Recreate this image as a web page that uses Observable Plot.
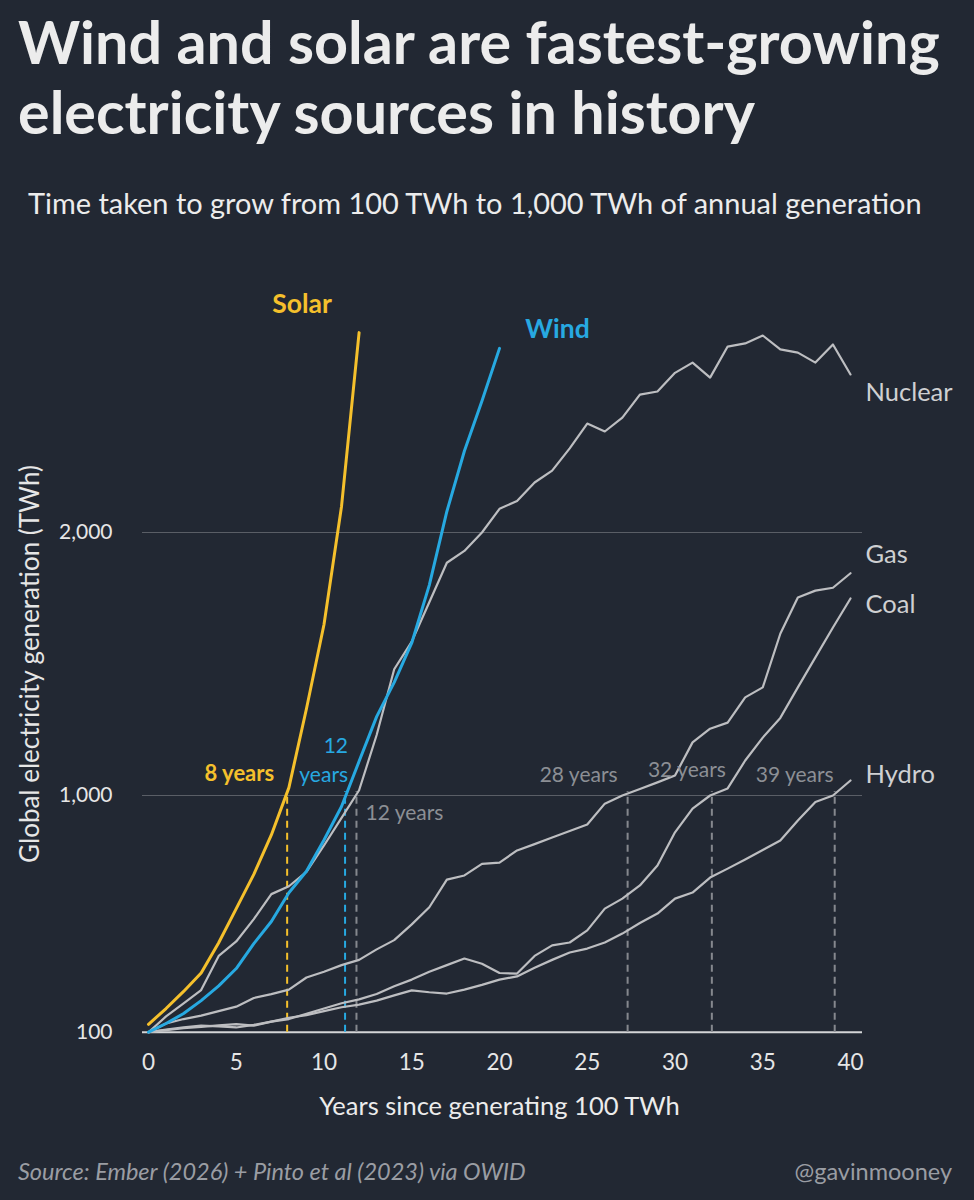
<!DOCTYPE html>
<html>
<head>
<meta charset="utf-8">
<script src="https://cdn.jsdelivr.net/npm/d3@7"></script>
<script src="https://cdn.jsdelivr.net/npm/@observablehq/plot@0.6"></script>
<style>
  html, body { margin: 0; padding: 0; background: #222833; }
  body { width: 974px; height: 1200px; position: relative; overflow: hidden; font-family: Lato, "Open Sans", sans-serif; }
  .tline { position: absolute; left: 18px; color: #ececec; font-weight: 700; white-space: nowrap; font-size: 50px; line-height: 1; }
  #t1 { top: 12px; }
  #t2 { top: 82px; }
  #subtitle { position: absolute; left: 28px; top: 189px; color: #ececec; font-size: 25px; white-space: nowrap; line-height: 1; }
  #chart { position: absolute; left: 0; top: 250px; }
  .foot { position: absolute; top: 1160px; color: #9a9da3; font-size: 23.5px; white-space: nowrap; line-height: 1; }
  #source { left: 18px; font-style: italic; }
  #handle { right: 22px; }
</style>
</head>
<body>
<div id="t1" class="tline"><span>Wind and solar are fastest-growing</span></div>
<div id="t2" class="tline"><span>electricity sources in history</span></div>
<div id="subtitle"><span>Time taken to grow from 100 TWh to 1,000 TWh of annual generation</span></div>
<div id="chart"></div>
<div id="source" class="foot"><span>Source: Ember (2026) + Pinto et al (2023) via OWID</span></div>
<div id="handle" class="foot"><span>@gavinmooney</span></div>
<script>
// ---- data (TWh per year since reaching 100 TWh) ----
const solar   = [130, 190, 255, 325, 440, 570, 700, 850, 1030, 1330, 1650, 2100, 2760];
const wind    = [100, 133, 171, 220, 276, 342, 437, 521, 630, 712, 831, 958, 1130, 1300, 1430, 1580, 1800, 2080, 2310, 2500, 2700];
const nuclear = [100, 160, 210, 260, 390, 445, 530, 625, 655, 710, 810, 915, 1020, 1230, 1480, 1585, 1735, 1885, 1930, 2000, 2090, 2120, 2190, 2235, 2320, 2414, 2384, 2437, 2524, 2536, 2607, 2646, 2589, 2707, 2719, 2749, 2696, 2684, 2646, 2715, 2601];
const gas     = [100, 133, 150, 163, 180, 197, 230, 245, 262, 308, 330, 355, 375, 415, 450, 510, 575, 680, 696, 740, 745, 791, 815, 840, 865, 890, 969, 1000, 1025, 1050, 1076, 1202, 1254, 1277, 1373, 1411, 1615, 1753, 1779, 1790, 1845];
const coal    = [100, 110, 118, 125, 122, 118, 128, 140, 150, 170, 190, 210, 225, 245, 275, 300, 330, 355, 380, 360, 325, 323, 390, 430, 441, 487, 570, 608, 658, 734, 860, 950, 1000, 1027, 1133, 1220, 1295, 1411, 1525, 1639, 1749];
const hydro   = [100, 108, 115, 120, 126, 131, 125, 140, 155, 165, 180, 195, 205, 220, 240, 259, 252, 247, 262, 280, 300, 312, 345, 375, 403, 418, 441, 475, 515, 551, 608, 631, 688, 722, 757, 793, 829, 905, 975, 1000, 1057];

const seriesNames  = ["Nuclear", "Gas", "Coal", "Hydro", "Wind", "Solar"];
const seriesValues = [nuclear, gas, coal, hydro, wind, solar];

// years needed to reach 1,000 TWh (dashed markers)
const crossSeries = ["Solar", "Wind", "Nuclear", "Gas", "Coal", "Hydro"];
const crossYears  = [7.9, 11.2, 11.85, 27.3, 32.1, 39.1];
const crossLabels = ["8 years", "12\nyears", "12 years", "28 years", "32 years", "39 years"];

const xTicks = [0, 5, 10, 15, 20, 25, 30, 35, 40];
const yTicks = [100, 1000, 2000];
const gridTicks = [1000, 2000];
const baseline = 100;
const threshold = 1000;

// ---- build tables ----
const rows = seriesNames.flatMap((name, i) => seriesValues[i].map((v, year) => ({series: name, year, value: v})));
const lastOf = name => rows.filter(d => d.series === name).at(-1);
const crossRows = crossSeries.map((s, i) => ({series: s, year: crossYears[i], value: threshold, label: crossLabels[i]}));
const crossOf = name => crossRows.filter(d => d.series === name);

const SOLAR = "#f5c02c", WIND = "#27a9e1", GREY = "#bdbec1", DASHGREY = "#85888e", ANNOT = "#8c8f95", LABEL = "#cfd0d2";
const dashColorOf = s => s === "Solar" ? SOLAR : s === "Wind" ? WIND : DASHGREY;

const chart = Plot.plot({
  width: 974,
  height: 890,
  marginLeft: 148,
  marginRight: 124,
  marginTop: 45.3,
  marginBottom: 108.3,
  style: {background: "transparent", color: "#e6e6e6", fontFamily: "Lato, 'Open Sans', sans-serif", overflow: "visible"},
  x: {domain: [0, 40]},
  y: {domain: [100, 2900]},
  marks: [
    Plot.ruleY(gridTicks, {stroke: "#5a5e66", strokeWidth: 1, insetLeft: -6, insetRight: -12}),
    Plot.ruleY([baseline], {stroke: "#d4d5d7", strokeWidth: 2, insetLeft: -6, insetRight: -12}),
    Plot.ruleX(crossRows, {x: "year", y1: baseline, y2: "value", stroke: d => dashColorOf(d.series), strokeWidth: 2, strokeDasharray: "7,5", insetBottom: 4}),
    Plot.line(rows.filter(d => !["Solar", "Wind"].includes(d.series)), {x: "year", y: "value", z: "series", stroke: GREY, strokeWidth: 2.2, strokeLinejoin: "round"}),
    Plot.line(rows.filter(d => d.series === "Wind"), {x: "year", y: "value", stroke: WIND, strokeWidth: 3, strokeLinejoin: "round", strokeLinecap: "round"}),
    Plot.line(rows.filter(d => d.series === "Solar"), {x: "year", y: "value", stroke: SOLAR, strokeWidth: 3, strokeLinejoin: "round", strokeLinecap: "round"}),
    // series labels
    Plot.text([lastOf("Solar")], {x: "year", y: "value", text: "series", fill: SOLAR, fontWeight: 700, fontSize: 26.5, dx: -57, dy: -28}),
    Plot.text([lastOf("Wind")], {x: "year", y: "value", text: "series", fill: WIND, fontWeight: 700, fontSize: 26.5, dx: 58, dy: -19}),
    Plot.text([lastOf("Nuclear")], {x: "year", y: "value", text: "series", fill: LABEL, fontSize: 25.5, textAnchor: "start", dx: 15, dy: 18}),
    Plot.text([lastOf("Gas")], {x: "year", y: "value", text: "series", fill: LABEL, fontSize: 25.5, textAnchor: "start", dx: 15, dy: -18}),
    Plot.text([lastOf("Coal")], {x: "year", y: "value", text: "series", fill: LABEL, fontSize: 25.5, textAnchor: "start", dx: 15, dy: 6}),
    Plot.text([lastOf("Hydro")], {x: "year", y: "value", text: "series", fill: LABEL, fontSize: 25.5, textAnchor: "start", dx: 15, dy: -6}),
    // duration annotations
    Plot.text(crossOf("Solar"), {x: "year", y: "value", text: "label", fill: SOLAR, fontWeight: 700, fontSize: 22, textAnchor: "end", dx: -13, dy: -22}),
    Plot.text(crossOf("Wind"), {x: "year", y: "value", text: "label", fill: WIND, fontWeight: 400, fontSize: 21, textAnchor: "end", lineHeight: 1.38, dx: 3, dy: -37.5}),
    Plot.text(crossOf("Nuclear"), {x: "year", y: "value", text: "label", fill: ANNOT, fontSize: 21, textAnchor: "start", dx: 9, dy: 18}),
    Plot.text(crossOf("Gas"), {x: "year", y: "value", text: "label", fill: ANNOT, fontSize: 21, textAnchor: "end", dx: -10, dy: -20}),
    Plot.text(crossOf("Coal"), {x: "year", y: "value", text: "label", fill: ANNOT, fontSize: 21, textAnchor: "end", dx: 14, dy: -25}),
    Plot.text(crossOf("Hydro"), {x: "year", y: "value", text: "label", fill: ANNOT, fontSize: 21, textAnchor: "end", dx: -1, dy: -20}),
    // axes
    Plot.axisX({ticks: xTicks, tickSize: 0, tickPadding: 22, fontSize: 22.5, color: "#e6e6e6", label: null}),
    Plot.axisY({ticks: yTicks, tickSize: 0, tickPadding: 36, fontSize: 21, color: "#e6e6e6", tickFormat: d3.format(","), label: null}),
    Plot.text(["Years since generating 100 TWh"], {frameAnchor: "bottom", lineAnchor: "middle", textAnchor: "middle", dy: 75, fontSize: 25.5, fill: "#ececec"}),
    Plot.text(["Global electricity generation (TWh)"], {frameAnchor: "left", textAnchor: "middle", lineAnchor: "middle", dx: -118, rotate: -90, fontSize: 26, fill: "#e6e6e6"})
  ]
});
document.getElementById("chart").append(chart);

// fit heading widths to the reference layout
function fit(id, target) {
  const el = document.getElementById(id);
  const span = el.querySelector("span");
  const w = span.getBoundingClientRect().width;
  const fs = parseFloat(getComputedStyle(el).fontSize);
  return fs * target / w;
}
const tfs = fit("t1", 922);
document.getElementById("t1").style.fontSize = tfs + "px";
document.getElementById("t2").style.fontSize = tfs + "px";
document.getElementById("subtitle").style.fontSize = fit("subtitle", 894) + "px";
</script>
</body>
</html>
